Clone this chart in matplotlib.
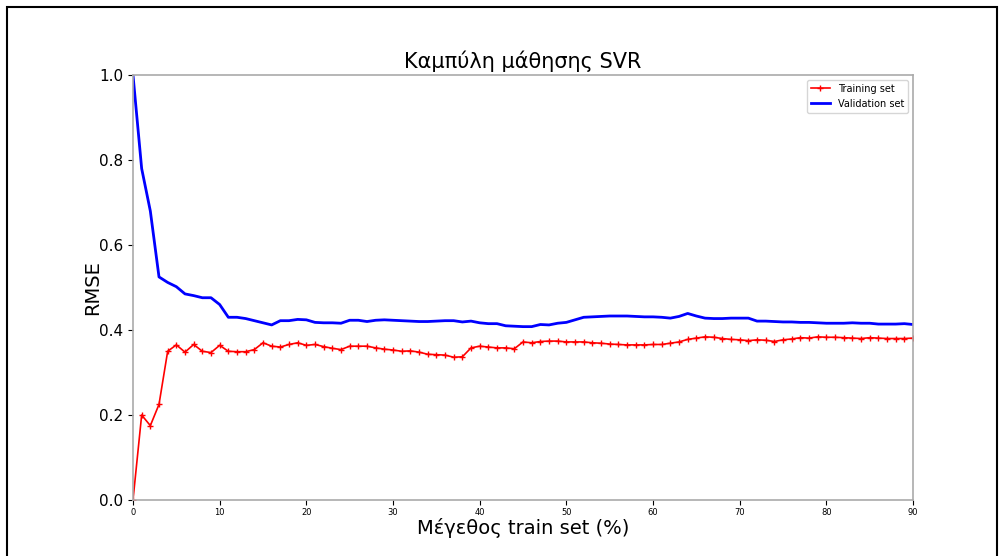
import numpy as np
import matplotlib.pyplot as plt
from matplotlib.patches import Rectangle

''' Data read off the reference '''
train_size = list(range(0, 91))

train_rmse = [0.0, 0.20, 0.175, 0.225, 0.35, 0.365, 0.348, 0.366, 0.35, 0.347,
              0.364, 0.35, 0.349, 0.349, 0.354, 0.37, 0.362, 0.36, 0.366, 0.37,
              0.364, 0.366, 0.361, 0.357, 0.354, 0.362, 0.362, 0.362, 0.358, 0.355,
              0.353, 0.35, 0.351, 0.348, 0.343, 0.342, 0.341, 0.336, 0.337, 0.358,
              0.362, 0.36, 0.358, 0.358, 0.356, 0.372, 0.37, 0.373, 0.374, 0.374,
              0.372, 0.372, 0.372, 0.37, 0.369, 0.367, 0.366, 0.365, 0.365, 0.365,
              0.366, 0.366, 0.369, 0.372, 0.378, 0.381, 0.384, 0.383, 0.38, 0.378,
              0.377, 0.375, 0.377, 0.376, 0.373, 0.377, 0.379, 0.382, 0.381, 0.384,
              0.383, 0.383, 0.382, 0.381, 0.38, 0.382, 0.381, 0.38, 0.38, 0.38,
              0.381]

val_rmse = [1.0, 0.78, 0.68, 0.525, 0.512, 0.502, 0.485, 0.481, 0.476, 0.476,
            0.46, 0.43, 0.43, 0.427, 0.422, 0.417, 0.412, 0.422, 0.422, 0.425,
            0.424, 0.418, 0.417, 0.417, 0.416, 0.423, 0.423, 0.42, 0.423, 0.424,
            0.423, 0.422, 0.421, 0.42, 0.42, 0.421, 0.422, 0.422, 0.419, 0.421,
            0.417, 0.415, 0.415, 0.41, 0.409, 0.408, 0.408, 0.413, 0.412, 0.416,
            0.418, 0.424, 0.43, 0.431, 0.432, 0.433, 0.433, 0.433, 0.432, 0.431,
            0.431, 0.43, 0.428, 0.432, 0.439, 0.433, 0.428, 0.427, 0.427, 0.428,
            0.428, 0.428, 0.421, 0.421, 0.42, 0.419, 0.419, 0.418, 0.418, 0.417,
            0.416, 0.416, 0.416, 0.417, 0.416, 0.416, 0.414, 0.414, 0.414, 0.415,
            0.413]

''' Plot '''
fig = plt.figure(figsize=(10.03, 5.56), dpi=100)
ax = fig.add_axes([0.1326, 0.1007, 0.7777, 0.7643])

ax.plot(train_size, train_rmse, 'r-+', linewidth=1.2, markersize=4, label='Training set')
ax.plot(train_size, val_rmse, 'b-', linewidth=2, label='Validation set')

ax.set_xlim(0, 90)
ax.set_ylim(0, 1)
ax.set_title('Καμπύλη μάθησης SVR', fontsize=15, pad=5)
ax.set_xlabel('Μέγεθος train set (%)', fontsize=14, labelpad=1)
ax.set_ylabel('RMSE', fontsize=14, labelpad=-2)
ax.tick_params(axis='x', labelsize=6, pad=2)
ax.tick_params(axis='y', labelsize=11)
for s in ax.spines.values():
    s.set_color('#aaaaaa')
    s.set_linewidth(1.2)
ax.legend(loc='upper right', fontsize=7)

# Frame around the screenshot
fig.patches.append(Rectangle((7 / 1003, -0.1), 990 / 1003, 1.1 - 7 / 556,
                             transform=fig.transFigure, fill=False,
                             edgecolor='black', linewidth=1.5))

fig.savefig('out.png', dpi=100)
